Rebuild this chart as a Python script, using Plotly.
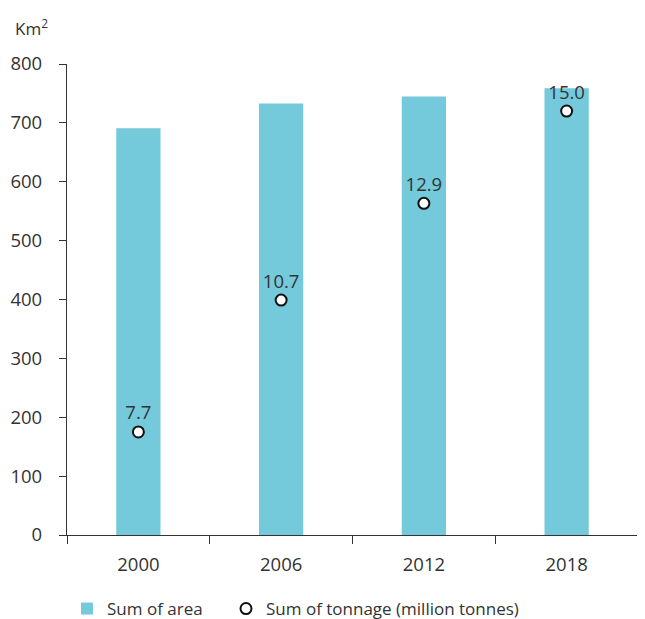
import plotly.graph_objects as go

years = ["2000", "2006", "2012", "2018"]
area_km2 = [691, 733, 745, 759]
tonnage_mt = [7.7, 10.7, 12.9, 15.0]
tonnage_labels = ["7.7", "10.7", "12.9", "15.0"]
y_ticks = [0, 100, 200, 300, 400, 500, 600, 700, 800]

FONT = "Open Sans"
TXT = "#333333"
BAR = "#74CADA"

# page body adds an 8px offset; compensate
OFF = 8
L, T = 67 - OFF, 64 - OFF
R = 645 - (638 - OFF)
B = 619 - (535 - OFF)
W, H = 645, 619
PW, PH = W - L - R, H - T - B

fig = go.Figure()
fig.add_trace(go.Bar(
    x=years, y=area_km2, name="Sum of area",
    marker=dict(color=BAR, line=dict(width=0)), width=0.31,
    legend="legend",
))
fig.add_trace(go.Scatter(
    x=years, y=tonnage_mt, name="Sum of tonnage (million tonnes)",
    mode="markers+text", yaxis="y2",
    text=tonnage_labels, textposition="top center",
    textfont=dict(family=FONT, size=18.5, color=TXT),
    marker=dict(symbol="circle", size=11, color="white",
                line=dict(color="#111111", width=2)),
    legend="legend2",
))

leg_common = dict(font=dict(family=FONT, size=17, color=TXT),
                  bgcolor="rgba(0,0,0,0)", yanchor="top", xanchor="left",
                  y=-((591 - OFF) - (H - B)) / PH, orientation="h")

fig.update_layout(
    width=W, height=H,
    margin=dict(l=L, r=R, t=T, b=B, autoexpand=False),
    plot_bgcolor="white", paper_bgcolor="white",
    font=dict(family=FONT, size=17, color=TXT),
    showlegend=True,
    legend=dict(x=((108 - OFF - 41) - L) / PW, **leg_common),
    legend2=dict(x=((267 - OFF - 41) - L) / PW, **leg_common),
    xaxis=dict(
        type="category", showgrid=False, showline=True, linecolor=TXT, linewidth=1.2,
        ticks="outside", tickson="boundaries", ticklen=8, tickcolor=TXT,
        tickwidth=1.2, ticklabelstandoff=13, zeroline=False, automargin=False,
        tickfont=dict(family=FONT, size=18.5, color=TXT),
    ),
    yaxis=dict(
        range=[0, 800], tickvals=y_ticks, showgrid=False, showline=True,
        linecolor=TXT, linewidth=1.2, ticks="outside", ticklen=7, tickcolor=TXT,
        tickwidth=1.2, ticklabelstandoff=13, zeroline=False, automargin=False,
        tickfont=dict(family=FONT, size=18.5, color=TXT),
    ),
    yaxis2=dict(
        range=[5.356, 16.07], overlaying="y", side="right", visible=False,
        showgrid=False, zeroline=False, automargin=False,
    ),
    annotations=[dict(
        text="Km<sup>2</sup>", x=-(L - (13 - OFF)) / PW, y=1 + (T - (27 - OFF)) / PH,
        xref="paper", yref="paper",
        showarrow=False, font=dict(family=FONT, size=17, color=TXT),
        xanchor="left", yanchor="middle",
    )],
)

fig.write_html("out.html")
